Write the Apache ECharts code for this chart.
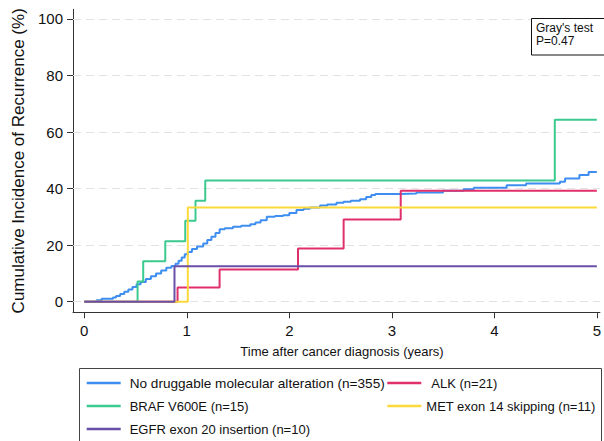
<!DOCTYPE html>
<html><head><meta charset="utf-8">
<script src="https://cdn.jsdelivr.net/npm/echarts@6/dist/echarts.min.js"></script>
<style>html,body{margin:0;padding:0;background:#fff}#c{width:604px;height:441px}</style>
</head><body><div id="c"></div>
<script>
const xTicks = [0, 1, 2, 3, 4, 5];
const yTicks = [0, 20, 40, 60, 80, 100];
const names = [
  'No druggable molecular alteration (n=355)',
  'BRAF V600E (n=15)',
  'EGFR exon 20 insertion (n=10)',
  'ALK (n=21)',
  'MET exon 14 skipping (n=11)'
];
const noDrug = [[0,0],[0.12,0.5],[0.17,1.0],[0.28,1.5],[0.31,2.0],[0.35,2.7],[0.39,3.5],[0.43,4.3],[0.47,5.2],[0.51,6.2],[0.55,7.0],[0.6,8.0],[0.65,9.0],[0.7,10.0],[0.75,11.0],[0.8,12.0],[0.85,12.6],[0.89,13.4],[0.92,14.5],[0.95,15.6],[0.98,16.8],[1.01,17.6],[1.05,18.6],[1.1,19.5],[1.16,20.6],[1.2,21.8],[1.24,23.0],[1.28,24.3],[1.32,25.6],[1.37,26.0],[1.45,26.5],[1.53,26.9],[1.62,27.4],[1.67,28.0],[1.72,28.8],[1.78,30.0],[1.86,30.3],[1.94,30.6],[2.0,31.4],[2.07,32.4],[2.14,32.9],[2.2,33.3],[2.3,34.0],[2.37,34.4],[2.46,35.0],[2.53,35.3],[2.6,35.7],[2.69,36.2],[2.75,37.0],[2.8,37.7],[2.84,38.1],[3.08,38.3],[3.24,38.6],[3.5,39.2],[3.7,39.8],[3.8,40.3],[4.12,41.2],[4.31,41.8],[4.64,42.4],[4.69,43.6],[4.83,44.8],[4.92,45.9],[5.0,45.9]];
const braf = [[0,0],[0.52,7.1],[0.575,14.3],[0.79,21.4],[0.985,28.6],[1.085,35.7],[1.18,42.9],[4.59,64.3],[5.0,64.3]];
const egfr = [[0,0],[0.88,12.5],[5.0,12.5]];
const alk = [[0,0],[0.91,5.0],[1.32,11.4],[2.085,18.8],[2.53,29.1],[3.087,39.2],[5.0,39.2]];
const met = [[0,0],[1.01,33.3],[5.0,33.3]];
const colors = ['#3d8ef0', '#3cc98f', '#6a4fa8', '#e0306a', '#fcd93a'];

const FONT = '"Liberation Sans", Arial, sans-serif';
const chart = echarts.init(document.getElementById('c'), null, {renderer: 'svg'});
function ser(i, data, z) {
  return {name: names[i], type: 'line', step: 'end', data: data, showSymbol: false, symbol: 'none',
    lineStyle: {color: colors[i], width: 2}, itemStyle: {color: colors[i]}, z: z, animation: false};
}
const legendCommon = {orient: 'vertical', type: 'plain', padding: 0, itemWidth: 34, itemHeight: 2.5, icon: 'rect', itemGap: 8,
  textStyle: {fontFamily: FONT, fontSize: 13, color: '#111', lineHeight: 15, padding: [0, 0, 0, 4]},
  selectedMode: false};
chart.setOption({
  animation: false,
  grid: {left: 73, top: 9.3, width: 527.4, height: 303, containLabel: false},
  xAxis: {type: 'value', min: -0.11, max: 5.03,
    name: 'Time after cancer diagnosis (years)', nameLocation: 'middle', nameGap: 33,
    nameTextStyle: {fontFamily: FONT, fontSize: 13, color: '#111', padding: [0, 0, 0, 11]},
    axisLine: {onZero: false, lineStyle: {color: '#333', width: 1}},
    axisTick: {customValues: xTicks, length: 6, lineStyle: {color: '#333'}},
    axisLabel: {customValues: xTicks, margin: 11, fontFamily: FONT, fontSize: 15, color: '#111'},
    splitLine: {show: false}},
  yAxis: {type: 'value', min: -3.75, max: 103.4,
    name: 'Cumulative Incidence of Recurrence (%)', nameLocation: 'middle', nameGap: 46,
    nameTextStyle: {fontFamily: FONT, fontSize: 17, color: '#111'},
    axisLine: {show: true, onZero: false, lineStyle: {color: '#333', width: 1}},
    axisTick: {show: true, customValues: yTicks, length: 6, lineStyle: {color: '#333'}},
    axisLabel: {customValues: yTicks, margin: 10, fontFamily: FONT, fontSize: 15, color: '#111'},
    splitLine: {show: false}},
  legend: [
    Object.assign({left: 86.7, top: 375.5, data: [{name: names[0], textStyle: {fontSize: 13.6}}, names[1], names[2]]}, legendCommon),
    Object.assign({left: 387.3, top: 375.5, data: [{name: names[3], textStyle: {padding: [0, 0, 0, 5]}}, {name: names[4], textStyle: {padding: 0}}]}, legendCommon)
  ],
  graphic: [
    {type: 'rect', shape: {x: 79.5, y: 368.5, width: 522, height: 100}, style: {fill: 'none', stroke: '#444', lineWidth: 1}, silent: true},
    {type: 'rect', shape: {x: 531.5, y: 18.5, width: 80, height: 36.5}, style: {fill: '#fff', stroke: '#111', lineWidth: 1}, silent: true, z: 100},
    {type: 'text', x: 536, y: 22, style: {text: "Gray's test\nP=0.47", font: '12px ' + FONT, lineHeight: 12.5, fill: '#111'}, z: 101}
  ],
  series: [
    Object.assign(ser(0, noDrug, 3), {markLine: {silent: true, symbol: 'none', label: {show: false},
      lineStyle: {color: '#e2e2e2', width: 1, type: [8, 5]}, data: yTicks.map(v => ({yAxis: v})), z: 1, animation: false}}),
    ser(1, braf, 4),
    ser(3, alk, 5),
    ser(4, met, 6),
    ser(2, egfr, 7)
  ]
});
</script></body></html>
